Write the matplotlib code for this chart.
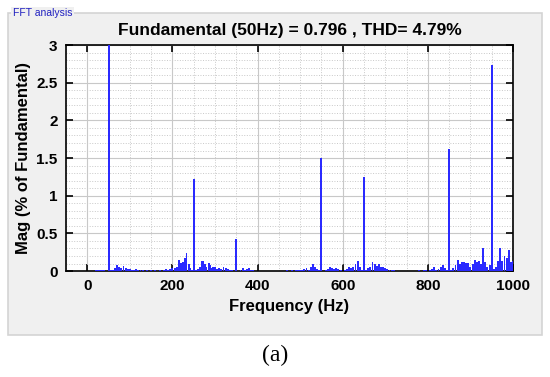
#!/usr/bin/env python3
#
# FFT analysis bar spectrum (MATLAB powergui style)
#

import matplotlib
matplotlib.use('Agg')
import matplotlib.pyplot as plt
from matplotlib.patches import Rectangle
from matplotlib.ticker import MultipleLocator

# harmonic spectrum, magnitude in % of fundamental
freq = [20, 25, 30, 35, 40,
        50,
        55, 60, 65, 70, 75, 80, 85, 90, 95, 100, 105, 110, 115, 120, 125, 130, 140, 150,
        160, 170, 180, 185, 190, 195, 200,
        205, 210, 215, 220, 225, 230, 233, 238, 242, 246,
        250,
        255, 260, 265, 270, 273, 277, 280, 285, 288, 292, 296, 300, 305, 310, 315, 320, 325, 330, 335, 340,
        350,
        360, 365, 370, 375, 380, 385, 390,
        420, 450, 470, 480, 490, 495,
        500, 505, 510, 515, 520, 525, 530, 535, 540, 545,
        550,
        560, 565, 570, 575, 580, 585, 590, 595,
        605, 610, 615, 620, 625, 630, 635, 640, 645,
        650,
        655, 660, 665, 670, 675, 680, 685, 690, 695, 700, 705, 710, 715, 720,
        780, 790, 795, 805, 810, 815, 820, 825, 830, 835, 840, 845,
        850,
        855, 860, 865, 870, 875, 880, 885, 890, 895, 900, 905, 910, 915, 920, 925, 930, 935, 940, 945,
        950,
        955, 960, 965, 970, 975, 980, 985, 990, 995, 1000]
mag = [0.01, 0.01, 0.015, 0.01, 0.02,
       100.0,
       0.01, 0.02, 0.04, 0.08, 0.05, 0.04, 0.07, 0.04, 0.03, 0.03, 0.02, 0.02, 0.03, 0.02, 0.01, 0.02, 0.01, 0.01,
       0.01, 0.01, 0.02, 0.03, 0.02, 0.03, 0.04,
       0.04, 0.06, 0.15, 0.11, 0.12, 0.18, 0.24, 0.10, 0.04, 0.02,
       1.22,
       0.02, 0.03, 0.06, 0.13, 0.14, 0.09, 0.05, 0.11, 0.08, 0.04, 0.05, 0.06, 0.03, 0.04, 0.03, 0.05, 0.04, 0.03, 0.02, 0.01,
       0.42,
       0.02, 0.04, 0.02, 0.03, 0.04, 0.02, 0.01,
       0.005, 0.005, 0.01, 0.01, 0.01, 0.02,
       0.01, 0.02, 0.03, 0.04, 0.02, 0.05, 0.10, 0.05, 0.03, 0.01,
       1.50,
       0.02, 0.03, 0.05, 0.04, 0.03, 0.04, 0.03, 0.02,
       0.02, 0.03, 0.06, 0.04, 0.05, 0.10, 0.13, 0.06, 0.02,
       1.25,
       0.02, 0.04, 0.06, 0.12, 0.10, 0.07, 0.09, 0.05, 0.06, 0.04, 0.03, 0.02, 0.02, 0.01,
       0.01, 0.01, 0.01, 0.02, 0.03, 0.06, 0.02, 0.03, 0.05, 0.08, 0.04, 0.02,
       1.62,
       0.02, 0.04, 0.08, 0.15, 0.10, 0.12, 0.12, 0.11, 0.11, 0.06, 0.09, 0.15, 0.12, 0.14, 0.09, 0.31, 0.12, 0.05, 0.08,
       2.73,
       0.03, 0.06, 0.13, 0.31, 0.14, 0.20, 0.17, 0.28, 0.12, 0.14]

title = 'Fundamental (50Hz) = 0.796 , THD= 4.79%'

bold = dict(family='Liberation Sans', weight='bold')

fig = plt.figure(figsize=(5.5, 3.77), dpi=100)
fig.patch.set_facecolor('white')

# grey panel with titled border, drawn behind the axes
panel = Rectangle((0.0145, 0.111), 0.971, 0.854, transform=fig.transFigure,
                  facecolor='#f0f0f0', edgecolor='#d4d4d4', linewidth=1.2, zorder=-5)
fig.patches.append(panel)
fig.text(0.023, 0.965, 'FFT analysis', color='#2020c0', fontsize=7.5,
         family='Liberation Sans', va='center', ha='left',
         bbox=dict(facecolor='#f0f0f0', edgecolor='none', pad=1.0))

ax = fig.add_axes([0.12, 0.281, 0.8127, 0.5995], zorder=2)
ax.set_facecolor('white')
ax.bar(freq, mag, width=4.5, color='#2a2aff', linewidth=0, zorder=3)

ax.set_xlim(-50, 1000)
ax.set_ylim(0, 3)
ax.xaxis.set_major_locator(MultipleLocator(200))
ax.xaxis.set_minor_locator(MultipleLocator(50))
ax.yaxis.set_major_locator(MultipleLocator(0.5))
ax.yaxis.set_minor_locator(MultipleLocator(0.1))
ax.set_yticks([0, 0.5, 1, 1.5, 2, 2.5, 3])
ax.set_yticklabels(['0', '0.5', '1', '1.5', '2', '2.5', '3'])

ax.grid(which='major', color='#c8c8c8', linestyle='-', linewidth=0.8, zorder=1)
ax.grid(which='minor', color='#c8c8c8', linestyle=':', linewidth=0.7, zorder=1)
ax.tick_params(which='major', direction='in', length=5, width=1.2,
               top=True, right=True, labelsize=11, pad=6)
ax.tick_params(which='minor', length=0, top=True, right=True)
for lab in ax.get_xticklabels() + ax.get_yticklabels():
    lab.set_fontfamily('Liberation Sans')
    lab.set_fontweight('bold')
for s in ax.spines.values():
    s.set_linewidth(1.2)
ax.set_axisbelow(True)

ax.set_xlabel('Frequency (Hz)', fontsize=12, labelpad=4, **bold)
ax.set_ylabel('Mag (% of Fundamental)', fontsize=12, labelpad=4, **bold)
fig.text(0.527, 0.92, title, ha='center', va='center', fontsize=12.5, **bold)

fig.text(0.5, 0.058, '(a)', ha='center', va='center', fontsize=17,
         family='Liberation Serif')

fig.savefig('out.png', dpi=100)
